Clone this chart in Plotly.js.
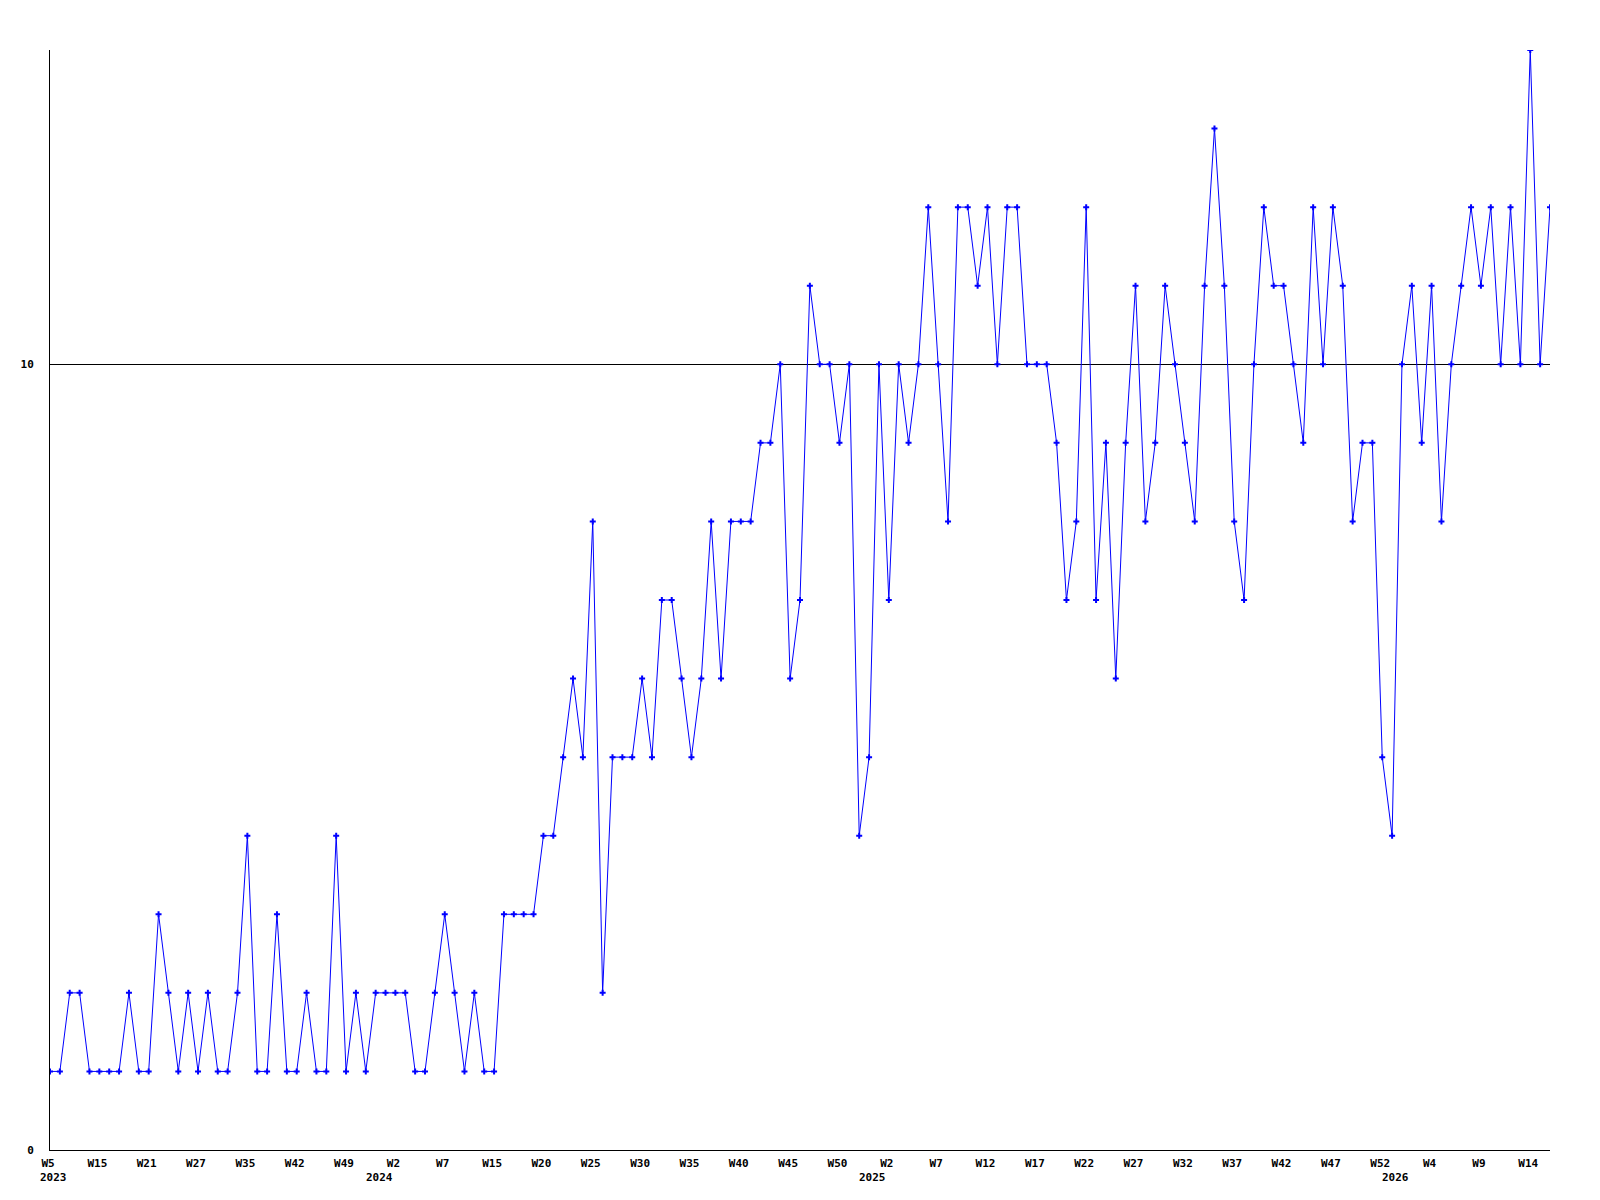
<!DOCTYPE html>
<html>
<head>
<meta charset="utf-8">
<script src="https://cdn.plot.ly/plotly-3.0.1.min.js"></script>
<style>html,body{margin:0;padding:0;background:#fff;}</style>
</head>
<body>
<div id="chart" style="width:1600px;height:1200px;"></div>
<script>
// Weekly counts (one value per data point, in order)
const values = [
  1,1,2,2,1,1,1,1,2,1,
  1,3,2,1,2,1,2,1,1,2,
  4,1,1,3,1,1,2,1,1,4,
  1,2,1,2,2,2,2,1,1,2,
  3,2,1,2,1,1,3,3,3,3,
  4,4,5,6,5,8,2,5,5,5,
  6,5,7,7,6,5,6,8,6,8,
  8,8,9,9,10,6,7,11,10,10,
  9,10,4,5,10,7,10,9,10,12,
  10,8,12,12,11,12,10,12,12,10,
  10,10,9,7,8,12,7,9,6,9,
  11,8,9,11,10,9,8,11,13,11,
  8,7,10,12,11,11,10,9,12,10,
  12,11,8,9,9,5,4,10,11,9,
  11,8,10,11,12,11,12,10,12,10,
  14,10,12
];

// Week tick labels, one for every 5th data point
const weekLabels = ['W5','W15','W21','W27','W35','W42','W49','W2','W7','W15','W20','W25','W30','W35','W40','W45',
                    'W50','W2','W7','W12','W17','W22','W27','W32','W37','W42','W47','W52','W4','W9','W14'];
const labelStep = 5;

// Year labels and the data point where each year starts
const years = ['2023','2024','2025','2026'];
const yearStart = [0,33,83,136];

// Y tick labels
const yTicks = [0,10];
const yTickLabels = ['0','10'];

const xs = values.map((v,i)=>i);
const tickvals = weekLabels.map((l,i)=>i*labelStep);

const fontBase = {family:'"DejaVu Sans Mono", "Liberation Mono", monospace', size:11, color:'#000', weight:700};

const trace = {
  type:'scatter', mode:'lines+markers',
  x: xs, y: values,
  line:{color:'#0000ff', width:1},
  marker:{color:'#0000ff', size:5, symbol:'cross'},
  hoverinfo:'skip'
};

const annotations = years.map((yr,i)=>({
  x: yearStart[i], xref:'x', y:0, yref:'paper',
  yshift:-27, xshift:-12, xanchor:'left', yanchor:'middle',
  text: yr, showarrow:false, font: fontBase
}));

const layout = {
  width:1600, height:1200,
  margin:{l:50, r:50, t:50, b:50, pad:0},
  paper_bgcolor:'#ffffff', plot_bgcolor:'#ffffff',
  showlegend:false,
  font: fontBase,
  xaxis:{
    range:[0, values.length-1],
    tickmode:'array', tickvals: tickvals, ticktext: weekLabels,
    showgrid:false, zeroline:false,
    showline:true, linecolor:'#000', linewidth:1,
    ticks:'', tickfont: fontBase, ticklabelstandoff:3, ticklabelshift:-2
  },
  yaxis:{
    range:[0,14],
    tickmode:'array', tickvals: yTicks, ticktext: yTickLabels,
    showgrid:true, gridcolor:'#000', gridwidth:1,
    zeroline:false,
    showline:true, linecolor:'#000', linewidth:1,
    ticks:'', tickfont: fontBase, ticklabelstandoff:13
  },
  annotations: annotations
};

Plotly.newPlot('chart', [trace], layout, {displayModeBar:false, staticPlot:true});
</script>
</body>
</html>
